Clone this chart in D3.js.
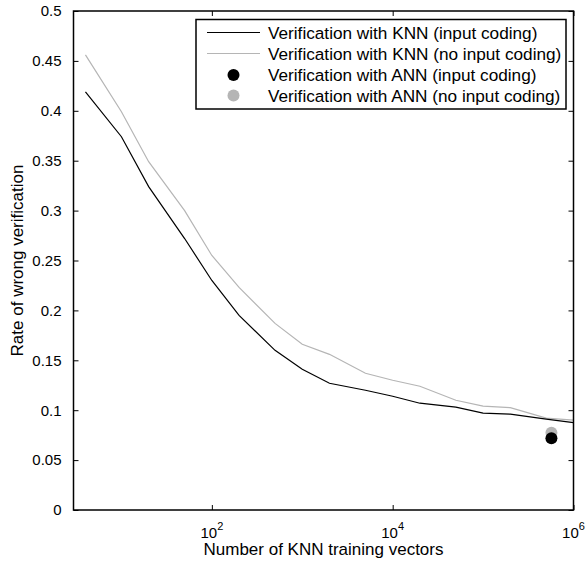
<!DOCTYPE html>
<html>
<head>
<meta charset="utf-8">
<script src="https://cdn.jsdelivr.net/npm/d3@7"></script>
<style>
body { margin: 0; background: #fff; }
text { font-family: Arial, "Liberation Sans", sans-serif; fill: #000; }
</style>
</head>
<body>
<svg id="vis" width="586" height="563"></svg>
<script>
// training set sizes (x axis, log scale)
var trainingVectors = [4, 10, 20, 50, 100, 200, 500, 1000, 2000, 5000, 10000, 20000, 50000, 100000, 200000, 500000, 1000000];
// knn error rates
var knnInputCoding = [0.419, 0.374, 0.324, 0.272, 0.230, 0.195, 0.160, 0.141, 0.127, 0.120, 0.114, 0.107, 0.103, 0.097, 0.096, 0.091, 0.0875];
var knnNoInputCoding = [0.456, 0.399, 0.349, 0.300, 0.255, 0.223, 0.187, 0.166, 0.156, 0.137, 0.130, 0.124, 0.110, 0.104, 0.1025, 0.092, 0.090];
// ann results, one point each
var annPointX = 570000;
var annInputCoding = 0.0718;
var annNoInputCoding = 0.0775;

var xTicks = [100, 10000, 1000000];
var xTickExp = ['2', '4', '6'];
var yTicks = [0, 0.05, 0.1, 0.15, 0.2, 0.25, 0.3, 0.35, 0.4, 0.45, 0.5];

var legendLabels = [
    'Verification with KNN (input coding)',
    'Verification with KNN (no input coding)',
    'Verification with ANN (input coding)',
    'Verification with ANN (no input coding)'
];

var grey = '#b5b5b5';
var tickFont = '15px';
var titleFont = '17px';
var legendFont = '17.2px';

// plot box (window.top is taken, so not "top")
var plotLeft = 73.5, plotRight = 573.5, plotTop = 11, plotBottom = 510;

var svg = d3.select('#vis');

var x = d3.scaleLog().domain([2.95, 1000000]).range([plotLeft, plotRight]);
var y = d3.scaleLinear().domain([0, 0.5]).range([plotBottom, plotTop]);

function drawLine(values, colour) {
    var line = d3.line()
        .x(function(d, i) { return x(trainingVectors[i]); })
        .y(function(d) { return y(d); });
    svg.append('path')
        .datum(values)
        .attr('d', line)
        .attr('fill', 'none')
        .attr('stroke', colour)
        .attr('stroke-width', 1.2);
}

drawLine(knnNoInputCoding, grey);
drawLine(knnInputCoding, '#000');

svg.append('circle')
    .attr('cx', x(annPointX)).attr('cy', y(annNoInputCoding)).attr('r', 6)
    .attr('fill', grey);
svg.append('circle')
    .attr('cx', x(annPointX)).attr('cy', y(annInputCoding)).attr('r', 6)
    .attr('fill', '#000');

// axes, ticks pointing inwards on all four sides
var tl = 5;
var yLeft = d3.axisLeft(y).tickValues(yTicks).tickSizeInner(-tl).tickSizeOuter(0).tickPadding(12)
    .tickFormat(function(d) { return d3.format('~g')(d); });
var yRight = d3.axisRight(y).tickValues(yTicks).tickSizeInner(-tl).tickSizeOuter(0).tickFormat('');
var xBottom = d3.axisBottom(x).tickValues(xTicks).tickSizeInner(-tl).tickSizeOuter(0).tickFormat('');
var xTop = d3.axisTop(x).tickValues(xTicks).tickSizeInner(-tl).tickSizeOuter(0).tickFormat('');

function styleAxis(g) {
    g.select('.domain').remove();
    g.selectAll('line').attr('stroke', '#000').attr('stroke-width', 1);
    g.selectAll('text').style('font-size', tickFont).style('font-family', null).attr('fill', '#000');
}

svg.append('g').attr('transform', 'translate(' + plotLeft + ',0)').call(yLeft).call(styleAxis);
svg.append('g').attr('transform', 'translate(' + plotRight + ',0)').call(yRight).call(styleAxis);
svg.append('g').attr('transform', 'translate(0,' + plotBottom + ')').call(xBottom).call(styleAxis);
svg.append('g').attr('transform', 'translate(0,' + plotTop + ')').call(xTop).call(styleAxis);

// x tick labels as 10 with superscript
var xl = svg.append('g').selectAll('text')
    .data(xTicks)
    .enter().append('text')
    .attr('x', function(d) { return x(d); })
    .attr('y', 538)
    .attr('text-anchor', 'middle')
    .style('font-size', tickFont);
xl.append('tspan').text('10');
xl.append('tspan')
    .attr('dy', -8)
    .style('font-size', '11px')
    .text(function(d, i) { return xTickExp[i]; });

// box around plot
svg.append('rect')
    .attr('x', plotLeft).attr('y', plotTop)
    .attr('width', plotRight - plotLeft).attr('height', plotBottom - plotTop)
    .attr('fill', 'none').attr('stroke', '#000').attr('stroke-width', 1.5);

// axis titles
svg.append('text')
    .attr('x', (plotLeft + plotRight) / 2).attr('y', 555)
    .attr('text-anchor', 'middle')
    .style('font-size', titleFont)
    .text('Number of KNN training vectors');
svg.append('text')
    .attr('transform', 'translate(23,' + (plotTop + plotBottom) / 2 + ') rotate(-90)')
    .attr('text-anchor', 'middle')
    .style('font-size', titleFont)
    .text('Rate of wrong verification');

// legend
var legend = svg.append('g');
legend.append('rect')
    .attr('x', 196).attr('y', 19.5).attr('width', 370).attr('height', 89.5)
    .attr('fill', '#fff').attr('stroke', '#000').attr('stroke-width', 1.5);

var rowY = [32.5, 53.5, 75, 95.5];
var legendColours = ['#000', grey, '#000', grey];
legendLabels.forEach(function(label, i) {
    if (i < 2) {
        legend.append('line')
            .attr('x1', 207).attr('x2', 260)
            .attr('y1', rowY[i]).attr('y2', rowY[i])
            .attr('stroke', legendColours[i]).attr('stroke-width', 1.2);
    } else {
        legend.append('circle')
            .attr('cx', 233.5).attr('cy', rowY[i]).attr('r', 6)
            .attr('fill', legendColours[i]);
    }
    legend.append('text')
        .attr('x', 268).attr('y', rowY[i] + 6)
        .style('font-size', legendFont)
        .text(label);
});
</script>
</body>
</html>
